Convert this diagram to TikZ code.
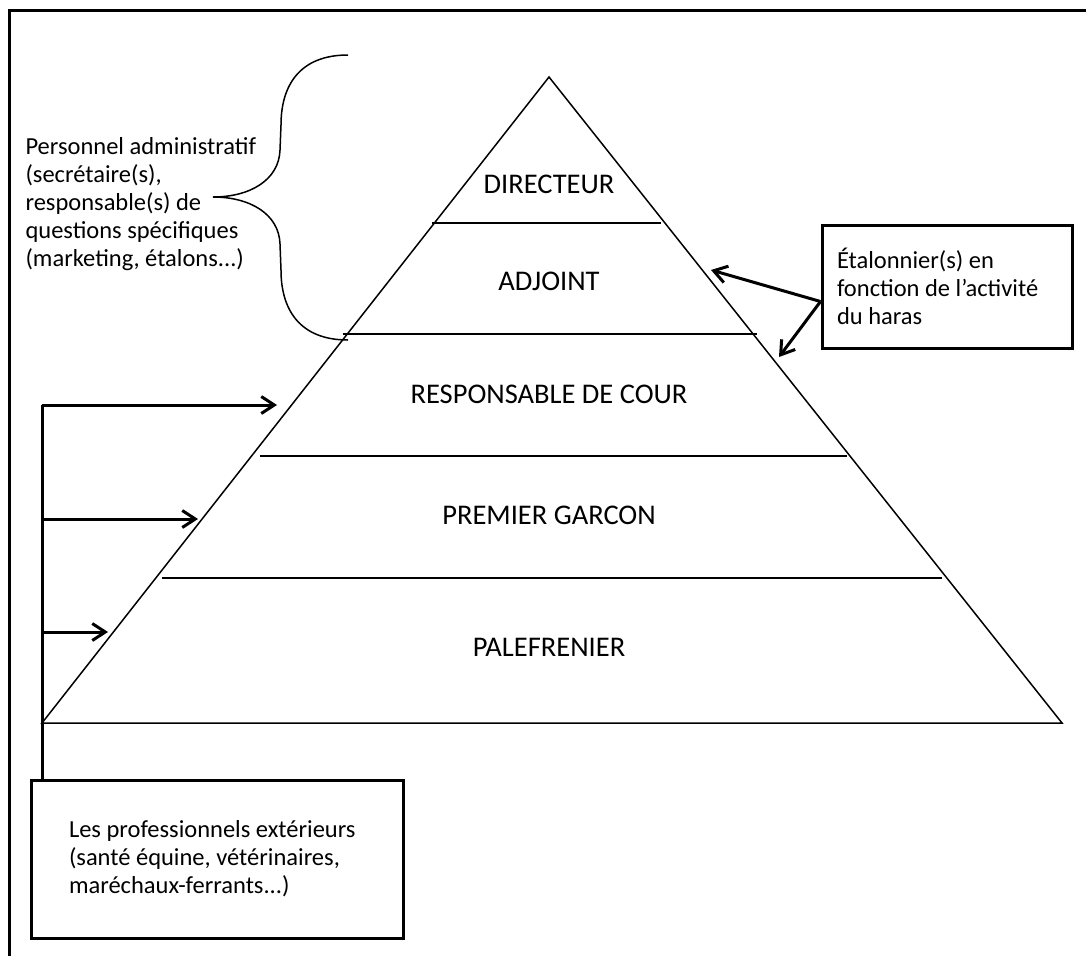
\documentclass[tikz,border=0pt]{standalone}
\usepackage{fontspec}
\setmainfont{Carlito}
\usetikzlibrary{arrows.meta,calc}

\tikzset{
  frame/.style={line width=3},
  pyr/.style={line width=1.5},
  layer/.style={font=\fontsize{28.5}{33}\selectfont},
  note/.style={align=flush left,font=\fontsize{24.5}{28}\selectfont},
  notebox/.style={note,draw,line width=3,inner sep=0pt},
  link/.style={line width=3,-{Straight Barb[length=13pt,width=17pt]}}
}

\begin{document}
\begin{tikzpicture}[x=1pt,y=1pt,yscale=-1,xscale=1]
\useasboundingbox (0,0) rectangle (1086,956);

%Frame
\draw [frame] (9.5,956) -- (9.5,10) -- (1086,10) ;

%Pyramid
\coordinate (apex) at (549,77);
\coordinate (bl) at (42,723);
\coordinate (br) at (1062,723);
\draw [pyr] (bl) -- (apex) -- (br) -- cycle ;

%Layers
\draw [pyr] (432,223) -- (661,223) ;
\draw [pyr] (343,334) -- (757,334) ;
\draw [pyr] (260,456) -- (847,456) ;
\draw [pyr] (162,578) -- (942,578) ;

\node [layer] (dir) at (549,184) {DIRECTEUR};
\node [layer] (adj) at (549,281) {ADJOINT};
\node [layer] (cour) at (549,394) {RESPONSABLE DE COUR};
\node [layer] (garcon) at (549,515) {PREMIER GARCON};
\node [layer] (palef) at (549,647) {PALEFRENIER};

%Brace: administratif
\draw [pyr] (348,55) .. controls (300,55) and (281,85) .. (281,125) -- (280,150) .. controls (279,180) and (250,197) .. (213,197) .. controls (250,197) and (279,214) .. (280,244) -- (281,270) .. controls (281,310) and (300,340) .. (348,340) ;
\node [note,anchor=west] (admin) at (22,204) {Personnel administratif\\(secrétaire(s),\\responsable(s) de\\questions spécifiques\\(marketing, étalons...)};

%Etalonnier
\node [notebox,minimum width=250,minimum height=123,text width=220] (etal) at (947,286.5) {Étalonnier(s) en\\fonction de l’activité\\du haras};
\coordinate (etal out) at ($(etal.west)+(0,15)$);
\coordinate (etal up) at (711,270);
\coordinate (etal down) at (779,357);
\draw [link] (etal out) -- (etal up) ;
\draw [link] (etal out) -- (etal down) ;

%Exterieurs
\node [notebox,minimum width=372,minimum height=158,text width=296] (ext) at (217,859) {Les professionnels extérieurs\\(santé équine, vétérinaires,\\maréchaux-ferrants...)};
\coordinate (ext top) at (42,405);
\coordinate (ext mid) at (42,519);
\coordinate (ext low) at (42,632);
\draw [frame] (ext top |- ext.north) -- (ext top) ;
\draw [link] (ext top) -- (277,405) ;
\draw [link] (ext mid) -- (198,519) ;
\draw [link] (ext low) -- (108,632) ;

\end{tikzpicture}
\end{document}
